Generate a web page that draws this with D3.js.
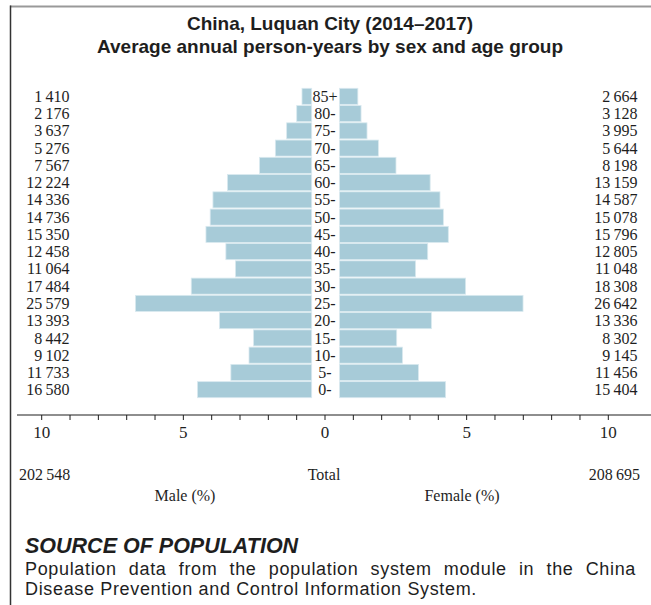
<!DOCTYPE html>
<html>
<head>
<meta charset="utf-8">
<script src="https://cdn.jsdelivr.net/npm/d3@7"></script>
<style>
  html, body { margin: 0; padding: 0; background: #fff; }
  svg { display: block; }
</style>
</head>
<body>
<svg id="chart" width="651" height="605"></svg>
<script>
// ---------- DATA ----------
const ageGroups = ["0-","5-","10-","15-","20-","25-","30-","35-","40-","45-","50-","55-","60-","65-","70-","75-","80-","85+"];
const maleCounts = [16580, 11733, 9102, 8442, 13393, 25579, 17484, 11064, 12458, 15350, 14736, 14336, 12224, 7567, 5276, 3637, 2176, 1410];
const femaleCounts = [15404, 11456, 9145, 8302, 13336, 26642, 18308, 11048, 12805, 15796, 15078, 14587, 13159, 8198, 5644, 3995, 3128, 2664];
const maleTotal = 202548;
const femaleTotal = 208695;
const axisTicks = [-10, -5, 0, 5, 10];
const titleLines = ["China, Luquan City (2014\u20132017)", "Average annual person-years by sex and age group"];
const sourceHeading = "SOURCE OF POPULATION";
const sourceLines = ["Population data from the population system module in the China", "Disease Prevention and Control Information System."];

// ---------- SETUP ----------
const svg = d3.select("#chart");
const serif = "'Liberation Serif', 'Times New Roman', serif";
const sans = "'Liberation Sans', Arial, sans-serif";
const ink = "#1e1e1e";
const grand = maleTotal + femaleTotal;
const loc = d3.formatLocale({decimal: ".", thousands: "\u2009", grouping: [3], currency: ["", ""]});
const fmt = loc.format(",d");

const rows = ageGroups.map((a, i) => ({age: a, m: maleCounts[i], f: femaleCounts[i]}));

// frame
svg.append("line").attr("x1", 10).attr("x2", 651).attr("y1", 6.5).attr("y2", 6.5)
  .attr("stroke", "#999").attr("stroke-width", 2);
svg.append("line").attr("x1", 10.5).attr("x2", 10.5).attr("y1", 5.5).attr("y2", 605)
  .attr("stroke", "#333").attr("stroke-width", 1.5);

// title
svg.selectAll("text.title").data(titleLines).join("text")
  .attr("class", "title")
  .attr("x", 330).attr("y", (d, i) => 30 + i * 23)
  .attr("text-anchor", "middle")
  .attr("font-family", sans).attr("font-weight", "bold").attr("font-size", 19)
  .attr("fill", ink).text(d => d);

// scales
const y = d3.scaleBand().domain(ageGroups.slice().reverse()).range([88.3, 397.7]).paddingInner(0.07);
const unit = 28.33;
const xAxis = d3.scaleLinear().domain([-10, 10]).range([325 - 10 * unit, 325 + 10 * unit]);
const xMale = d3.scaleLinear().domain([0, 10]).range([311.7, 311.7 - 10 * unit]);
const xFemale = d3.scaleLinear().domain([0, 10]).range([339.5, 339.5 + 10 * unit]);
const pct = v => v / grand * 100;

const barFill = "#a7cbd8";
const barStroke = "#d9e9ef";

// bars
svg.append("g").selectAll("rect").data(rows).join("rect")
  .attr("x", d => xMale(pct(d.m)))
  .attr("y", d => y(d.age))
  .attr("width", d => xMale(0) - xMale(pct(d.m)))
  .attr("height", y.bandwidth())
  .attr("fill", barFill).attr("stroke", barStroke).attr("stroke-width", 0.8);

svg.append("g").selectAll("rect").data(rows).join("rect")
  .attr("x", xFemale(0))
  .attr("y", d => y(d.age))
  .attr("width", d => xFemale(pct(d.f)) - xFemale(0))
  .attr("height", y.bandwidth())
  .attr("fill", barFill).attr("stroke", barStroke).attr("stroke-width", 0.8);

// age labels
svg.append("g").selectAll("text").data(rows).join("text")
  .attr("x", xAxis(0)).attr("y", d => y(d.age) + y.bandwidth() / 2)
  .attr("dy", "0.35em").attr("text-anchor", "middle")
  .attr("font-family", serif).attr("font-size", 16).attr("fill", ink)
  .text(d => d.age);

// counts
svg.append("g").selectAll("text").data(rows).join("text")
  .attr("x", 69.5).attr("y", d => y(d.age) + y.bandwidth() / 2)
  .attr("dy", "0.35em").attr("text-anchor", "end")
  .attr("font-family", serif).attr("font-size", 16).attr("fill", ink)
  .text(d => fmt(d.m));

svg.append("g").selectAll("text").data(rows).join("text")
  .attr("x", 637.5).attr("y", d => y(d.age) + y.bandwidth() / 2)
  .attr("dy", "0.35em").attr("text-anchor", "end")
  .attr("font-family", serif).attr("font-size", 16).attr("fill", ink)
  .text(d => fmt(d.f));

// axis
const ax = svg.append("g").attr("transform", "translate(0,415)");
ax.append("line").attr("x1", 17).attr("x2", 651).attr("stroke", ink).attr("stroke-width", 1.2);
ax.selectAll("line.tick").data(d3.range(-10, 11)).join("line")
  .attr("class", "tick")
  .attr("x1", d => xAxis(d)).attr("x2", d => xAxis(d))
  .attr("y1", 0).attr("y2", 5).attr("stroke", ink).attr("stroke-width", 1);
ax.selectAll("text").data(axisTicks).join("text")
  .attr("x", d => xAxis(d)).attr("y", 22.5)
  .attr("text-anchor", "middle")
  .attr("font-family", serif).attr("font-size", 17).attr("fill", ink)
  .text(d => Math.abs(d));

// totals
svg.append("text").attr("x", 19).attr("y", 479.5)
  .attr("font-family", serif).attr("font-size", 16).attr("fill", ink).text(fmt(maleTotal));
svg.append("text").attr("x", 640).attr("y", 479.5).attr("text-anchor", "end")
  .attr("font-family", serif).attr("font-size", 16).attr("fill", ink).text(fmt(femaleTotal));
svg.append("text").attr("x", xAxis(0) - 1).attr("y", 479.5).attr("text-anchor", "middle")
  .attr("font-family", serif).attr("font-size", 16).attr("fill", ink).text("Total");
svg.append("text").attr("x", 185).attr("y", 501).attr("text-anchor", "middle")
  .attr("font-family", serif).attr("font-size", 16).attr("fill", ink).text("Male (%)");
svg.append("text").attr("x", 462).attr("y", 501).attr("text-anchor", "middle")
  .attr("font-family", serif).attr("font-size", 16).attr("fill", ink).text("Female (%)");

// source
svg.append("text").attr("x", 25).attr("y", 553)
  .attr("font-family", sans).attr("font-weight", "bold").attr("font-style", "italic")
  .attr("font-size", 21.5).attr("fill", ink).text(sourceHeading);

// body: lightly tracked, first line justified to the right margin
const left = 25, right = 636, fs = 18, lineGap = 20.2, lastLineWidth = 452;
const probe = svg.append("text").attr("font-family", sans).attr("font-size", fs)
  .text(sourceLines[sourceLines.length - 1]);
const natural = probe.node().getComputedTextLength();
probe.remove();
const tracking = Math.max(0, (lastLineWidth - natural) / sourceLines[sourceLines.length - 1].length);

sourceLines.forEach((line, li) => {
  const yy = 575 + li * lineGap;
  if (li === sourceLines.length - 1) {
    svg.append("text").attr("x", left).attr("y", yy)
      .attr("font-family", sans).attr("font-size", fs).attr("letter-spacing", tracking)
      .attr("fill", ink).text(line);
    return;
  }
  const words = line.split(" ");
  const g = svg.append("g");
  const nodes = words.map(w => g.append("text").attr("y", yy)
    .attr("font-family", sans).attr("font-size", fs).attr("letter-spacing", tracking)
    .attr("fill", ink).text(w));
  const widths = nodes.map(n => n.node().getComputedTextLength());
  const total = d3.sum(widths);
  const gap = (right - left - total) / (words.length - 1);
  let x = left;
  nodes.forEach((n, i) => { n.attr("x", x); x += widths[i] + gap; });
});
</script>
</body>
</html>
